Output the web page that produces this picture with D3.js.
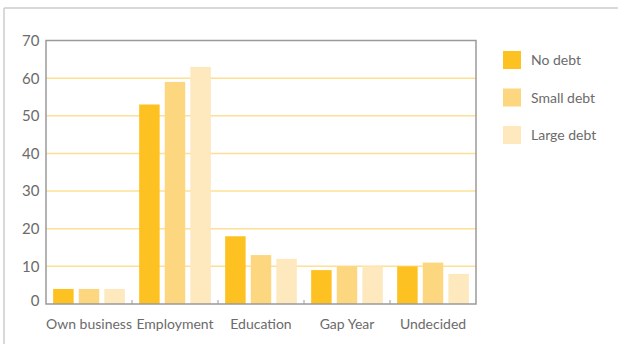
<!DOCTYPE html>
<html>
<head>
<meta charset="utf-8">
<script src="https://cdn.jsdelivr.net/npm/d3@7/dist/d3.min.js"></script>
<style>
  html, body { margin: 0; padding: 0; background: #fff; }
  svg { display: block; font-family: Lato, "Open Sans", sans-serif; }
</style>
</head>
<body>
<svg id="chart" width="618" height="344"></svg>
<script>
// Post-study plans by level of student debt (%)
const categories = ["Own business", "Employment", "Education", "Gap Year", "Undecided"];
const seriesNames = ["No debt", "Small debt", "Large debt"];
const noDebt = [4, 53, 18, 9, 10];
const smallDebt = [4, 59, 13, 10, 11];
const largeDebt = [4, 63, 12, 10, 8];
const yTicks = [0, 10, 20, 30, 40, 50, 60, 70];

const seriesValues = [noDebt, smallDebt, largeDebt];
const colors = ["#fdc221", "#fdd680", "#fee8be"];

const svg = d3.select("#chart");
const W = 618, H = 344;
const plot = { left: 46, right: 476, top: 40.5, bottom: 304 };

// outer frame (top and left edges only)
svg.append("line").attr("x1", 4).attr("x2", W).attr("y1", 8).attr("y2", 8)
  .attr("stroke", "#cccccc").attr("stroke-width", 1.5);
svg.append("line").attr("x1", 4).attr("x2", 4).attr("y1", 8).attr("y2", H)
  .attr("stroke", "#cccccc").attr("stroke-width", 1.5);

const x = d3.scaleBand().domain(categories).range([plot.left, plot.right]).paddingInner(0).paddingOuter(0);
const xs = d3.scaleBand().domain(seriesNames).range([0, x.bandwidth()]).paddingInner(0.2).paddingOuter(0.28);
const y = d3.scaleLinear().domain([0, 70]).range([plot.bottom, plot.top]);

// gridlines
svg.append("g").selectAll("line").data(yTicks.filter(d => d > 0 && d < 70)).join("line")
  .attr("x1", plot.left).attr("x2", plot.right)
  .attr("y1", d => y(d)).attr("y2", d => y(d))
  .attr("stroke", "#fde093").attr("stroke-width", 1.5);

// bars
const groups = svg.append("g").selectAll("g").data(categories).join("g")
  .attr("transform", d => `translate(${x(d)},0)`);
groups.selectAll("rect")
  .data((c, i) => seriesNames.map((s, j) => ({ s, j, v: seriesValues[j][i] })))
  .join("rect")
  .attr("x", d => xs(d.s))
  .attr("width", xs.bandwidth())
  .attr("y", d => y(d.v))
  .attr("height", d => y(0) - y(d.v))
  .attr("fill", d => colors[d.j]);

// plot frame
svg.append("rect")
  .attr("x", plot.left).attr("y", plot.top)
  .attr("width", plot.right - plot.left).attr("height", plot.bottom - plot.top)
  .attr("fill", "none").attr("stroke", "#9a9a9a").attr("stroke-width", 1.5);

// category separator ticks on the x axis
svg.append("g").selectAll("line").data(categories.slice(1)).join("line")
  .attr("x1", d => x(d)).attr("x2", d => x(d))
  .attr("y1", plot.bottom).attr("y2", plot.bottom - 4)
  .attr("stroke", "#9a9a9a").attr("stroke-width", 1);

// y axis labels
svg.append("g").selectAll("text").data(yTicks).join("text")
  .attr("x", 39.5)
  .attr("y", d => y(d) + (d === 0 ? -3 : 0))
  .attr("dy", "0.36em")
  .attr("text-anchor", "end")
  .attr("font-size", 15)
  .attr("fill", "#6b6b6b")
  .text(d => d);

// x axis labels
svg.append("g").selectAll("text").data(categories).join("text")
  .attr("x", d => x(d) + x.bandwidth() / 2)
  .attr("y", 328.5)
  .attr("text-anchor", "middle")
  .attr("font-size", 14)
  .attr("fill", "#6b6b6b")
  .text(d => d);

// legend
const legend = svg.append("g").selectAll("g").data(seriesNames).join("g")
  .attr("transform", (d, i) => `translate(503,${51 + i * 37.5})`);
legend.append("rect").attr("width", 18).attr("height", 18)
  .attr("fill", (d, i) => colors[i]);
legend.append("text").attr("x", 28).attr("y", 9).attr("dy", "0.36em")
  .attr("font-size", 14).attr("fill", "#6b6b6b")
  .text(d => d);
</script>
</body>
</html>
